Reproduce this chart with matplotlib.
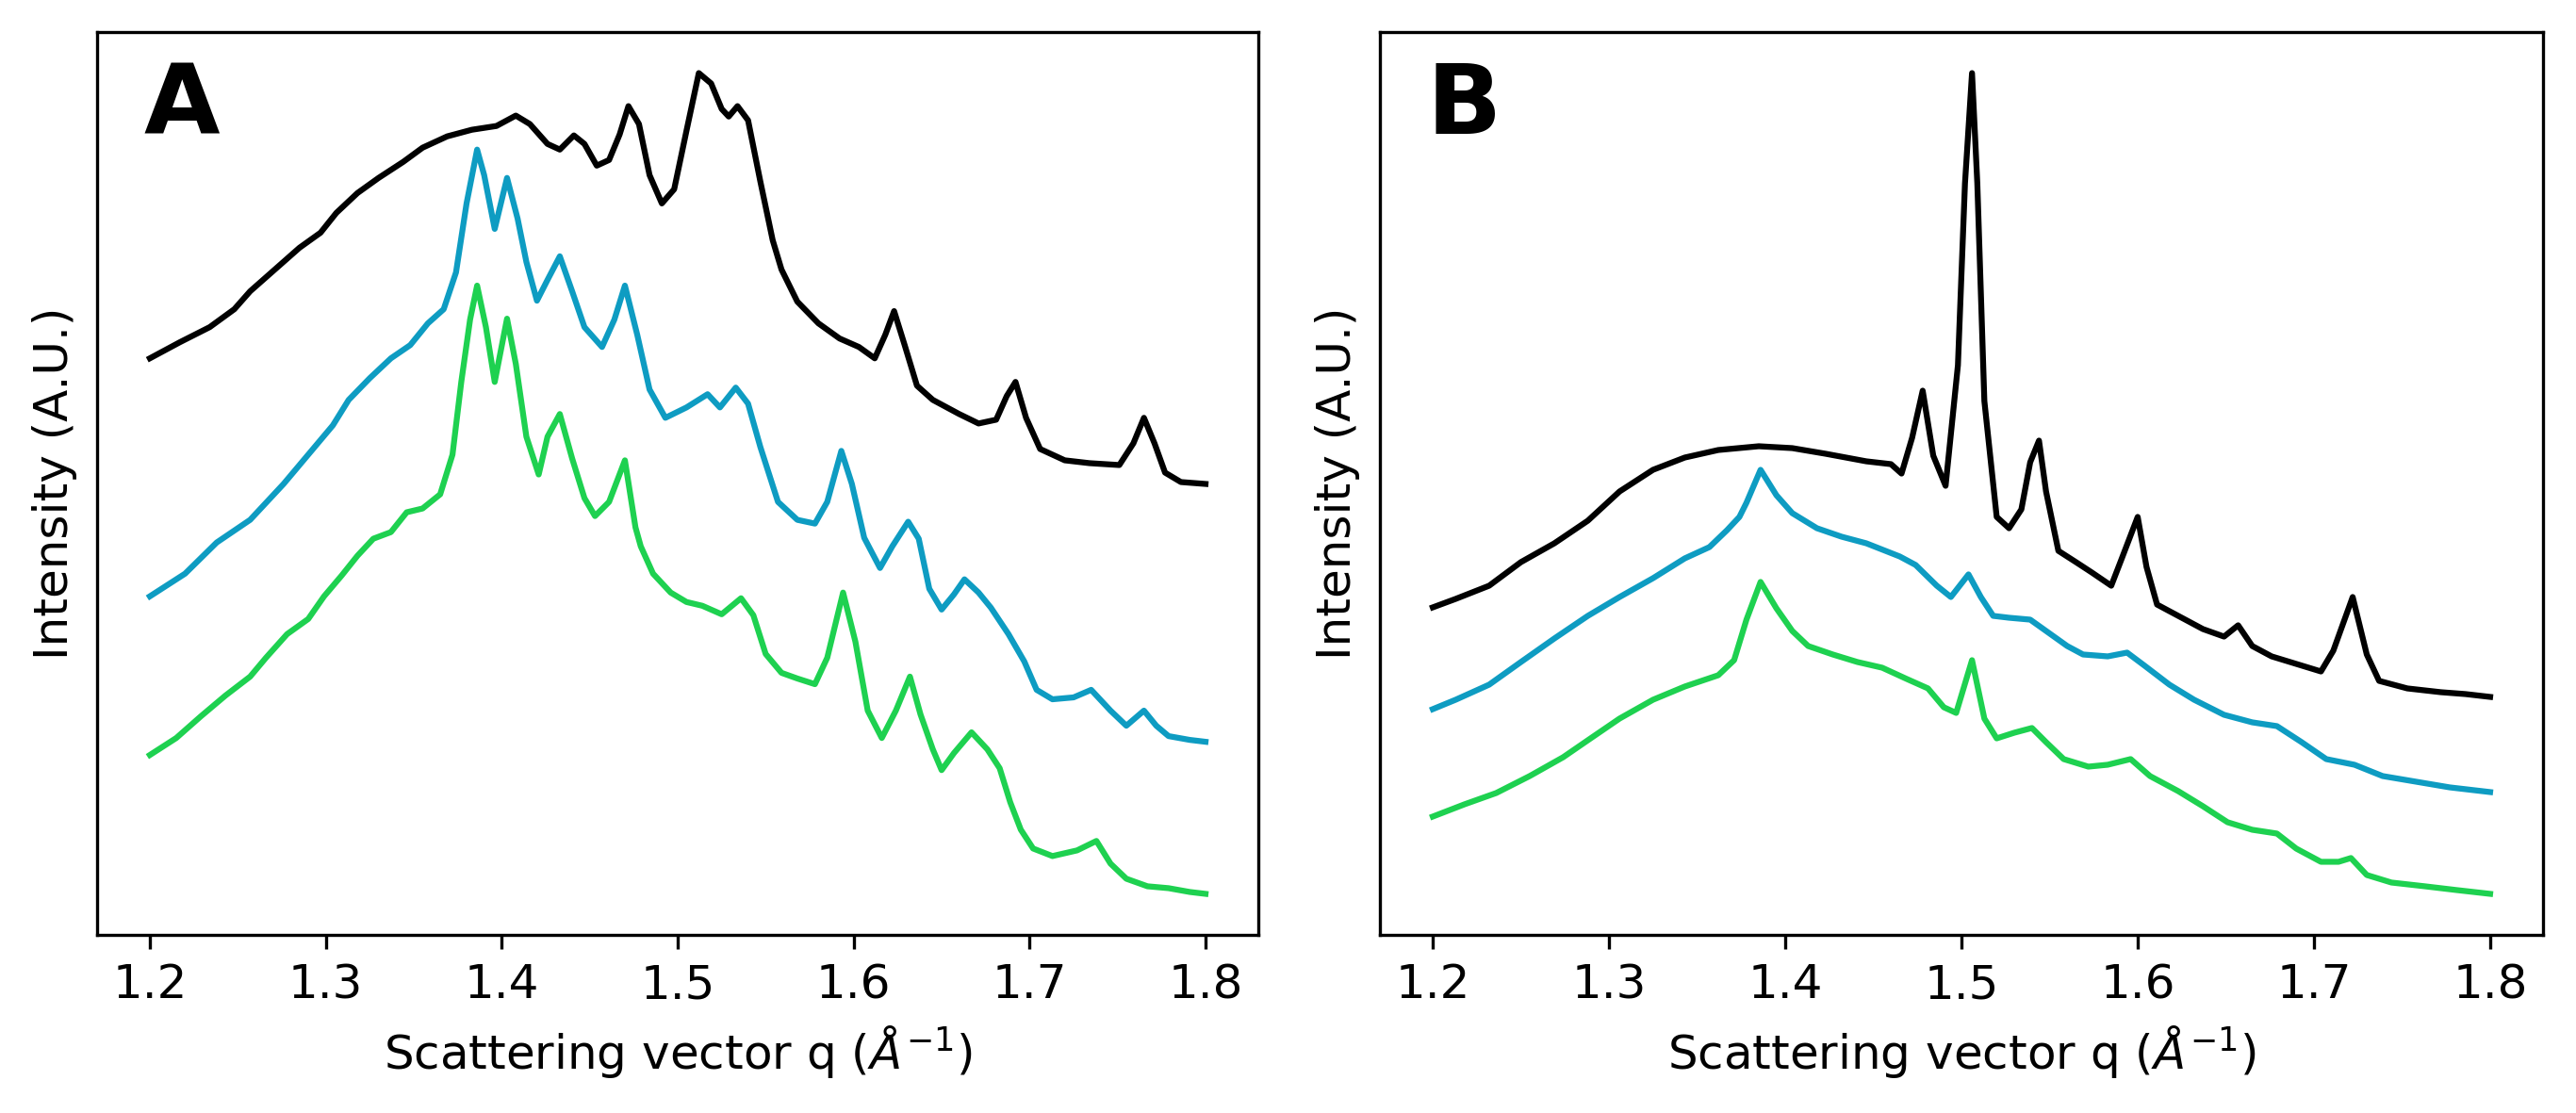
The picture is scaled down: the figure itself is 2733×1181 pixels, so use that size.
import matplotlib.pyplot as plt

# values (intensity in arbitrary units)
# panel A
qA_black = [1.200, 1.217, 1.234, 1.248, 1.257, 1.271, 1.285, 1.297, 1.306, 1.318, 1.330, 1.344, 1.355, 1.369,
            1.383, 1.397, 1.408, 1.416, 1.426, 1.433, 1.441, 1.447, 1.454, 1.461, 1.467, 1.472, 1.478, 1.484,
            1.491, 1.498, 1.505, 1.512, 1.519, 1.525, 1.529, 1.534, 1.540, 1.547, 1.554, 1.559, 1.568, 1.580,
            1.592, 1.603, 1.612, 1.618, 1.623, 1.629, 1.636, 1.645, 1.660, 1.671, 1.681, 1.687, 1.692, 1.698,
            1.706, 1.720, 1.734, 1.751, 1.759, 1.765, 1.771, 1.777, 1.786, 1.800]
iA_black = [621, 638, 654, 673, 692, 715, 738, 754, 775, 796, 812, 829, 844, 856,
            863, 867, 878, 869, 848, 842, 857, 848, 825, 831, 858, 888, 869, 815,
            785, 800, 862, 923, 912, 885, 877, 888, 873, 808, 746, 715, 681, 658,
            642, 633, 621, 646, 671, 635, 592, 577, 562, 552, 556, 581, 596, 558,
            525, 513, 510, 508, 531, 558, 531, 500, 490, 488]

qA_blue = [1.200, 1.220, 1.238, 1.257, 1.276, 1.290, 1.304, 1.313, 1.325, 1.337, 1.348, 1.358, 1.367, 1.374,
           1.380, 1.386, 1.390, 1.396, 1.403, 1.409, 1.414, 1.420, 1.426, 1.433, 1.440, 1.447, 1.457, 1.464,
           1.470, 1.477, 1.484, 1.493, 1.505, 1.517, 1.524, 1.533, 1.540, 1.547, 1.557, 1.568, 1.578, 1.585,
           1.593, 1.599, 1.606, 1.615, 1.622, 1.631, 1.637, 1.643, 1.650, 1.657, 1.663, 1.671, 1.678, 1.688,
           1.697, 1.704, 1.713, 1.725, 1.735, 1.746, 1.755, 1.765, 1.772, 1.779, 1.791, 1.800]
iA_blue = [369, 393, 426, 450, 488, 519, 550, 577, 600, 621, 635, 658, 673, 712,
           785, 842, 815, 758, 812, 769, 723, 682, 704, 729, 692, 654, 633, 662,
           698, 646, 588, 558, 569, 583, 569, 590, 573, 527, 469, 450, 446, 469,
           523, 488, 431, 399, 422, 448, 430, 377, 355, 371, 387, 373, 357, 329,
           300, 270, 260, 262, 270, 248, 232, 248, 232, 221, 217, 215]

qA_green = [1.200, 1.215, 1.229, 1.243, 1.257, 1.266, 1.278, 1.290, 1.299, 1.309, 1.318, 1.327, 1.337, 1.346,
            1.355, 1.365, 1.372, 1.377, 1.382, 1.386, 1.391, 1.396, 1.403, 1.408, 1.414, 1.421, 1.426, 1.433,
            1.440, 1.447, 1.453, 1.461, 1.470, 1.476, 1.479, 1.486, 1.496, 1.505, 1.514, 1.525, 1.536, 1.543,
            1.550, 1.559, 1.568, 1.578, 1.585, 1.594, 1.601, 1.608, 1.616, 1.624, 1.632, 1.638, 1.645, 1.650,
            1.657, 1.667, 1.676, 1.683, 1.689, 1.695, 1.702, 1.713, 1.727, 1.738, 1.746, 1.755, 1.767, 1.779,
            1.791, 1.800]
iA_green = [201, 219, 242, 264, 284, 304, 329, 345, 369, 391, 412, 430, 437, 458,
            462, 477, 519, 596, 662, 698, 654, 596, 663, 615, 538, 498, 538, 562,
            515, 473, 454, 469, 513, 442, 422, 393, 373, 363, 359, 350, 367, 349,
            308, 288, 282, 276, 304, 373, 321, 248, 219, 248, 284, 244, 207, 185,
            203, 225, 207, 187, 151, 122, 102, 94, 100, 110, 86, 70, 62, 60,
            56, 54]

# panel B
qB_black = [1.200, 1.213, 1.232, 1.250, 1.269, 1.288, 1.306, 1.325, 1.343, 1.362, 1.385, 1.404, 1.423, 1.446,
            1.460, 1.466, 1.472, 1.478, 1.484, 1.491, 1.498, 1.502, 1.506, 1.509, 1.513, 1.520, 1.527, 1.534,
            1.539, 1.544, 1.548, 1.555, 1.565, 1.574, 1.585, 1.591, 1.600, 1.605, 1.611, 1.623, 1.637, 1.649,
            1.657, 1.665, 1.676, 1.690, 1.704, 1.711, 1.722, 1.730, 1.737, 1.753, 1.772, 1.786, 1.800]
iB_black = [358, 367, 381, 406, 426, 450, 481, 504, 517, 525, 529, 527, 521, 513,
            510, 500, 538, 588, 519, 487, 615, 808, 925, 808, 577, 454, 442, 462,
            512, 535, 481, 418, 406, 395, 381, 410, 454, 401, 361, 349, 335, 327,
            339, 317, 306, 298, 290, 312, 369, 308, 280, 272, 268, 266, 263]

qB_blue = [1.200, 1.213, 1.232, 1.250, 1.269, 1.288, 1.306, 1.325, 1.343, 1.357, 1.367, 1.374, 1.378, 1.386,
           1.395, 1.404, 1.418, 1.432, 1.446, 1.465, 1.474, 1.486, 1.494, 1.504, 1.511, 1.518, 1.527, 1.539,
           1.548, 1.560, 1.569, 1.583, 1.594, 1.604, 1.618, 1.632, 1.649, 1.665, 1.679, 1.693, 1.707, 1.723,
           1.739, 1.758, 1.777, 1.800]
iB_blue = [250, 260, 276, 300, 325, 349, 369, 389, 410, 422, 440, 454, 469, 504,
           477, 458, 442, 433, 426, 412, 403, 381, 369, 393, 369, 349, 347, 345,
           333, 317, 308, 306, 310, 296, 276, 260, 244, 236, 232, 215, 197, 191,
           179, 173, 167, 162]

qB_green = [1.200, 1.218, 1.236, 1.255, 1.274, 1.288, 1.306, 1.325, 1.343, 1.362, 1.371, 1.378, 1.386, 1.395,
            1.404, 1.413, 1.427, 1.441, 1.455, 1.469, 1.481, 1.490, 1.497, 1.506, 1.513, 1.520, 1.530, 1.540,
            1.548, 1.558, 1.572, 1.583, 1.596, 1.607, 1.623, 1.637, 1.651, 1.665, 1.679, 1.690, 1.704, 1.714,
            1.721, 1.730, 1.744, 1.763, 1.781, 1.800]
iB_green = [136, 149, 161, 179, 199, 217, 240, 260, 274, 286, 302, 345, 385, 357,
            333, 317, 308, 300, 294, 282, 272, 252, 246, 302, 240, 219, 225, 230,
            215, 197, 189, 191, 197, 179, 163, 147, 130, 122, 118, 102, 88, 88,
            92, 74, 66, 62, 58, 54]

col_black = 'black'
col_blue = '#0e9cc2'
col_green = '#1ed150'

plt.rcParams['font.size'] = 12

fig = plt.figure(figsize=(2733/300, 1181/300), dpi=300)
axA = fig.add_axes([103/2733, 189/1181, 1232/2733, 958/1181])
axB = fig.add_axes([1464/2733, 189/1181, 1234/2733, 958/1181])

panels = [(axA, 'A', [(qA_black, iA_black, col_black), (qA_blue, iA_blue, col_blue), (qA_green, iA_green, col_green)]),
          (axB, 'B', [(qB_black, iB_black, col_black), (qB_blue, iB_blue, col_blue), (qB_green, iB_green, col_green)])]

for ax, letter, curves in panels:
    for q, inten, c in curves:
        ax.plot(q, inten, color=c, lw=1.5)
    ax.set_yticks([])
    ax.set_xticks([1.2, 1.3, 1.4, 1.5, 1.6, 1.7, 1.8])
    ax.set_xlabel(r'Scattering vector q ($\AA^{-1}$)')
    ax.set_ylabel('Intensity (A.U.)', labelpad=5)
    ax.text(0.04, 0.887, letter, transform=ax.transAxes, fontsize=25, fontweight='bold')

fig.savefig('out.png', dpi=300)
